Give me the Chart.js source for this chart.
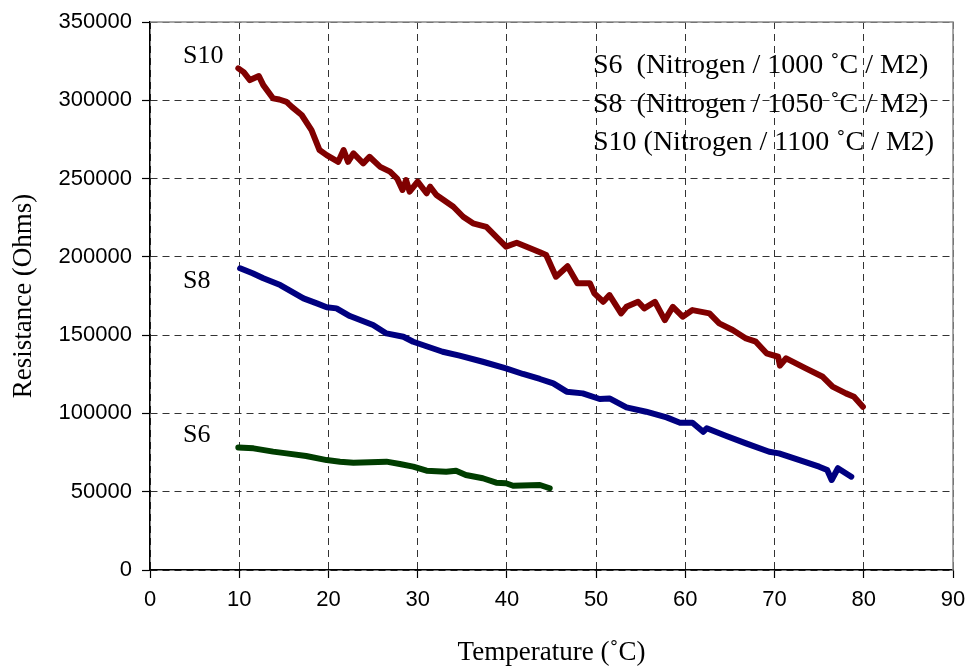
<!DOCTYPE html>
<html>
<head>
<meta charset="utf-8">
<script src="https://cdn.jsdelivr.net/npm/chart.js@4/dist/chart.umd.min.js"></script>
<style>
  html, body { margin: 0; padding: 0; background: #fff; }
  #wrap { width: 971px; height: 666px; }
</style>
</head>
<body>
<div id="wrap"><canvas id="myChart"></canvas></div>
<script>
// 시료별 온도 (°C) / 저항 (Ohms)
const s10Temp = [9.9, 10.5, 11.2, 12.2, 12.7, 13.8, 14.5, 15.3, 15.9, 17.0, 18.1, 19.0, 19.8, 21.1, 21.7, 22.2, 22.8, 23.9, 24.6, 25.8,
                 26.9, 27.7, 28.3, 28.7, 29.1, 30.0, 31.0, 31.4, 32.1, 34.0, 35.1, 36.2, 37.7, 39.9, 41.1, 42.2, 43.7, 44.4, 45.5, 46.8,
                 47.9, 49.3, 49.8, 50.8, 51.5, 52.8, 53.4, 54.7, 55.4, 56.6, 57.7, 58.6, 59.7, 60.8, 62.7, 63.8, 65.3, 66.8, 67.9, 69.1,
                 70.4, 70.6, 71.3, 73.5, 75.4, 76.5, 78.0, 78.9, 79.9];
const s10Res = [320400, 318000, 312900, 315500, 309700, 301200, 300500, 299000, 295800, 290600, 281000, 268200, 265000, 260700, 268200, 260700, 266100, 259700, 263900, 257500,
                254400, 250000, 242700, 249000, 241600, 248000, 240600, 244800, 239500, 232000, 225600, 221400, 219200, 206500, 209000, 206500, 203000, 201200, 187300, 194000,
                183100, 183100, 176700, 171300, 175600, 163900, 168100, 171300, 167100, 171300, 159600, 168100, 161800, 166000, 163900, 157500, 153300, 147900, 145800, 138400,
                136200, 130500, 135200, 128800, 123400, 117100, 112800, 110700, 104300];

const s8Temp = [10.1, 11.5, 12.7, 14.6, 17.2, 18.7, 19.8, 20.9, 22.4, 25.0, 26.5, 28.4, 29.5, 32.8, 34.7, 37.3, 39.9, 41.8, 43.7, 45.2,
                46.7, 48.5, 50.4, 51.5, 53.4, 55.6, 57.9, 59.4, 60.8, 62.0, 62.4, 64.6, 66.8, 69.4, 70.5, 72.8, 75.0, 75.9, 76.4, 77.1, 78.6];
const s8Res = [192700, 189500, 186300, 182000, 173500, 170300, 167800, 167100, 162200, 156500, 151100, 149000, 145800, 139400, 136900, 133000, 128800, 125200, 122000, 119200,
               113900, 112800, 109200, 109600, 103900, 101100, 97500, 94100, 94100, 88300, 90500, 85600, 80900, 75500, 74500, 70200, 66000, 63900, 57500, 65000, 59600];

const s6Temp = [9.9, 11.6, 13.8, 15.3, 17.5, 19.8, 21.3, 22.8, 26.5, 28.0, 29.5, 31.0, 33.2, 34.3, 35.4, 37.3, 38.8, 39.9, 40.7, 43.7, 44.8];
const s6Res = [78300, 77700, 75600, 74500, 72800, 70200, 69200, 68500, 69200, 67700, 66000, 63400, 62800, 63400, 60700, 58600, 55800, 55400, 53800, 54300, 52200];

// 범례 문구
const seriesNames = ['S6', 'S8', 'S10'];
const legendLines = ['S6  (Nitrogen / 1000 ˚C / M2)', 'S8  (Nitrogen / 1050 ˚C / M2)', 'S10 (Nitrogen / 1100 ˚C / M2)'];

// 축 눈금
const xTicks = [0, 10, 20, 30, 40, 50, 60, 70, 80, 90];
const yTicks = [0, 50000, 100000, 150000, 200000, 250000, 300000, 350000];

function toPoints(xs, ys) {
    return xs.map((x, i) => ({ x: x, y: ys[i] }));
}

const serif = "'Liberation Serif', 'Times New Roman', serif";
const sans = "'Liberation Sans', Arial, sans-serif";

// 그래프 테두리 (위, 오른쪽 회색선)
const framePlugin = {
    id: 'frame',
    beforeDatasetsDraw(chart) {
        const { ctx, chartArea: a } = chart;
        ctx.save();
        ctx.strokeStyle = '#8a8a8a';
        ctx.lineWidth = 1.5;
        ctx.beginPath();
        ctx.moveTo(a.left, a.top);
        ctx.lineTo(a.right, a.top);
        ctx.lineTo(a.right, a.bottom);
        ctx.stroke();
        ctx.restore();
    }
};

// 시료 이름과 범례 글자
const labelPlugin = {
    id: 'labels',
    afterDatasetsDraw(chart) {
        const { ctx, chartArea: a, scales } = chart;
        ctx.save();
        ctx.fillStyle = '#000';
        ctx.textBaseline = 'alphabetic';
        ctx.textAlign = 'left';
        ctx.font = '26px ' + serif;
        // 선 옆 이름 (데이터 좌표)
        const namePos = { S10: 323800, S8: 180100, S6: 81700 };
        seriesNames.forEach(n => {
            ctx.fillText(n, scales.x.getPixelForValue(3.7), scales.y.getPixelForValue(namePos[n]));
        });
        // 오른쪽 위 범례
        ctx.font = '28px ' + serif;
        legendLines.forEach((t, i) => {
            ctx.fillText(t, a.left + 443, a.top + 51 + i * 38.5);
        });
        ctx.restore();
    }
};

const ctx = document.getElementById('myChart').getContext('2d');

const myChart = new Chart(ctx, {
    type: 'line',
    data: {
        datasets: [
            { label: 'S10', data: toPoints(s10Temp, s10Res), borderColor: '#800000' },
            { label: 'S8', data: toPoints(s8Temp, s8Res), borderColor: '#000080' },
            { label: 'S6', data: toPoints(s6Temp, s6Res), borderColor: '#003d00' }
        ]
    },
    options: {
        responsive: true,
        maintainAspectRatio: false,
        animation: false,
        layout: { padding: { top: 22, right: 18, left: 0, bottom: 0 } },
        elements: {
            point: { radius: 0, hoverRadius: 0 },
            line: { borderWidth: 6, tension: 0, fill: false, borderJoinStyle: 'round', borderCapStyle: 'round' }
        },
        plugins: {
            legend: { display: false },
            tooltip: { enabled: false }
        },
        scales: {
            x: {
                type: 'linear',
                min: 0,
                max: 90,
                afterBuildTicks(scale) { scale.ticks = xTicks.map(v => ({ value: v })); },
                afterFit(scale) {
                    scale.height = 96;
                    scale.paddingLeft = 0;
                    scale.paddingRight = 0;
                },
                ticks: { color: '#000', font: { family: sans, size: 22 }, padding: 9, maxRotation: 0, callback: v => String(v) },
                grid: { color: '#333', lineWidth: 1, tickLength: 8, tickColor: '#000', tickWidth: 1.2, tickBorderDash: [] },
                border: { display: true, color: '#000', width: 1.5, dash: [7, 5] },
                title: { display: true, text: 'Temperature (˚C)', color: '#000', font: { family: serif, size: 27, lineHeight: 1 }, padding: 0 }
            },
            y: {
                min: 0,
                max: 350000,
                afterBuildTicks(scale) { scale.ticks = yTicks.map(v => ({ value: v })); },
                afterFit(scale) {
                    scale.width = 150;
                    scale.paddingTop = 0;
                    scale.paddingBottom = 0;
                },
                ticks: { color: '#000', font: { family: sans, size: 22 }, padding: 10, callback: v => String(v) },
                grid: { color: '#333', lineWidth: 1, tickLength: 8, tickColor: '#000', tickWidth: 1.2, tickBorderDash: [] },
                border: { display: true, color: '#000', width: 1.5, dash: [7, 5] },
                title: { display: true, text: 'Resistance (Ohms)', color: '#000', font: { family: serif, size: 27, lineHeight: 1 }, padding: { top: 10, bottom: 0 } }
            }
        }
    },
    plugins: [framePlugin, labelPlugin]
});
</script>
</body>
</html>
